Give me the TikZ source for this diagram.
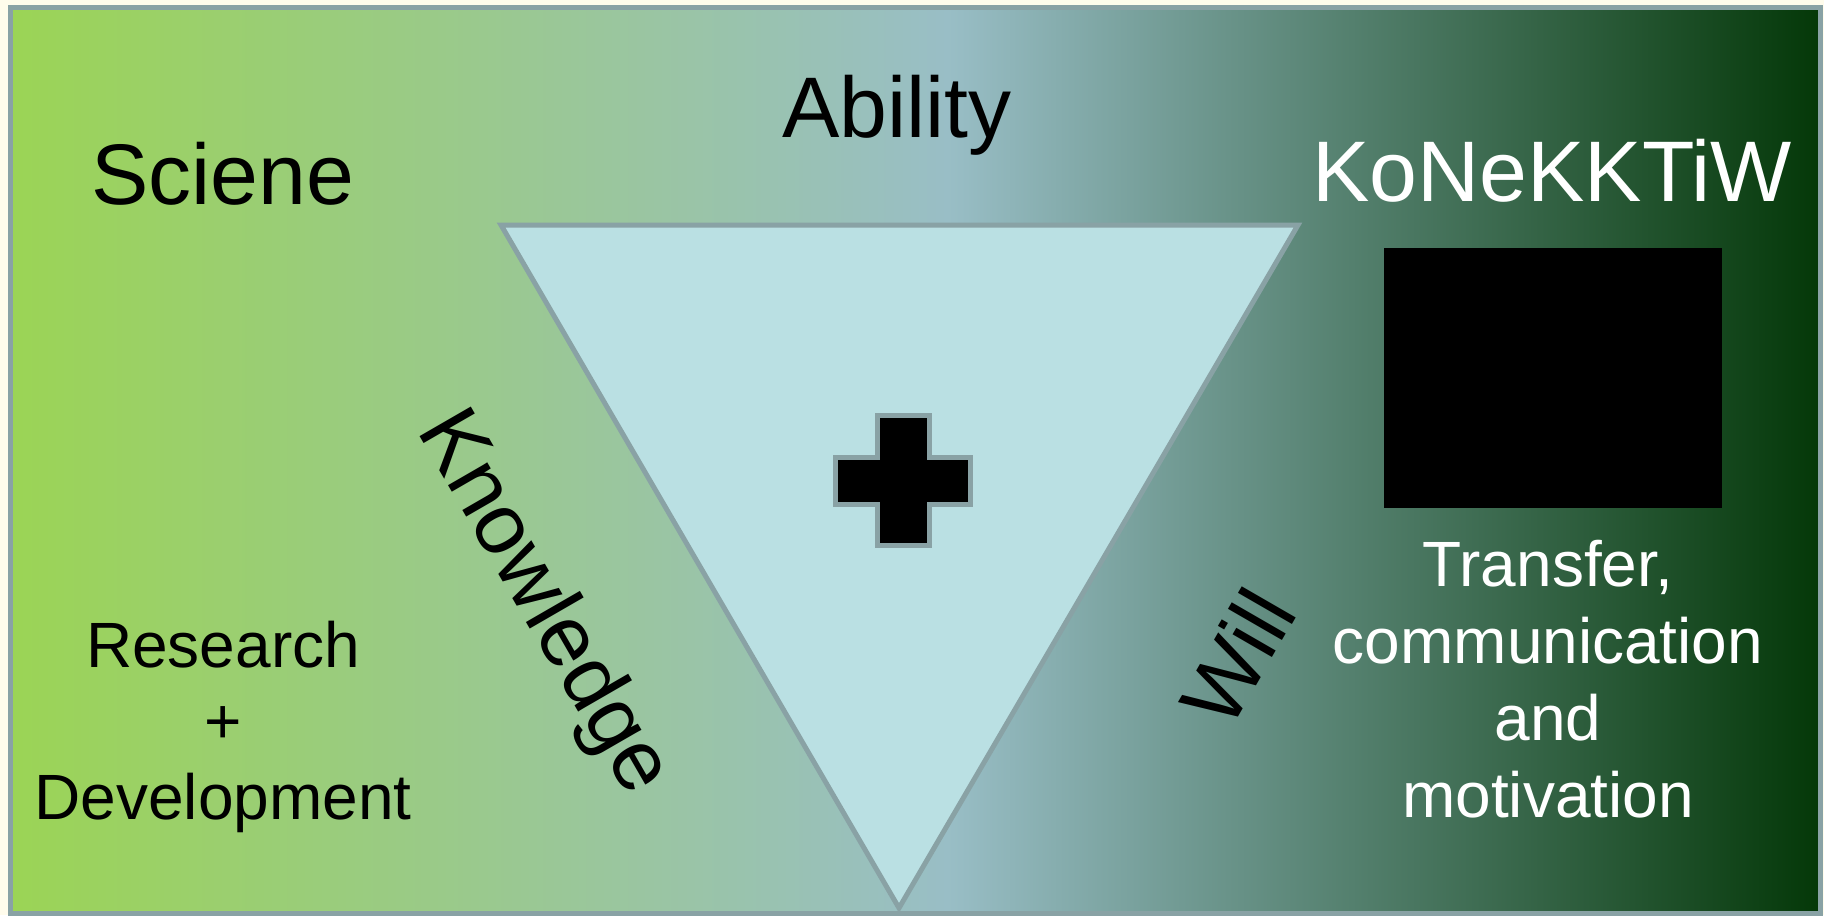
\documentclass[tikz,border=0pt]{standalone}
\usepackage{fontspec}
\setmainfont{Liberation Sans}
\definecolor{cream}{RGB}{255,252,236}
\definecolor{edgegray}{RGB}{137,162,165}
\definecolor{trifill}{RGB}{186,224,227}
\definecolor{gL}{RGB}{155,212,85}
\definecolor{gM}{RGB}{153,190,198}
\definecolor{gR}{RGB}{4,56,8}
\pgfdeclarehorizontalshading{bgshade}{100bp}{color(0bp)=(gL); color(25bp)=(gL); color(50.9bp)=(gM); color(75bp)=(gR); color(100bp)=(gR)}
\tikzset{
  bigtext/.style={font=\fontsize{43pt}{52pt}\selectfont, inner sep=0pt},
  smalltext/.style={font=\fontsize{32pt}{38pt}\selectfont, inner sep=0pt, anchor=base},
  edge/.style={draw=edgegray, line width=2.5pt}
}
\begin{document}
\begin{tikzpicture}[x=0.5pt,y=-0.5pt]
\useasboundingbox (0,0) rectangle (1824,915);
\fill[cream] (0,0) rectangle (1824,915);
\shade[shading=bgshade] (10,8) rectangle (1820,913.5);
\draw[edge] (10,8) rectangle (1820,913.5);
% triangle
\filldraw[fill=trifill, edge] (501,225) -- (1298,225) -- (899,908) -- cycle;
% plus sign
\filldraw[fill=black, edge] (877.5,415.5) -- (929.5,415.5) -- (929.5,457.5) -- (970.5,457.5) -- (970.5,504.5) -- (929.5,504.5) -- (929.5,545.5) -- (877.5,545.5) -- (877.5,504.5) -- (835.5,504.5) -- (835.5,457.5) -- (877.5,457.5) -- cycle;
% black box
\fill[black] (1384,248) rectangle (1722,508);
% titles
\node[bigtext, anchor=base] (sciene) at (223,204) {Sciene};
\node[bigtext, anchor=base] (ability) at (897,137) {Ability};
\node[bigtext, anchor=base, text=white] (konekktiw) at (1552,201) {KoNeKKTiW};
\node[bigtext, rotate=-60] (knowledge) at (542,604) {Knowledge};
\node[bigtext, rotate=60] (will) at (1237,657) {Will};
% left text
\node[smalltext] (research) at (223,667) {Research};
\node[smalltext] (plus) at (223,743) {+};
\node[smalltext] (development) at (223,819) {Development};
% right text
\node[smalltext, text=white] (transfer) at (1548,586) {Transfer,};
\node[smalltext, text=white] (communication) at (1548,663) {communication};
\node[smalltext, text=white] (and) at (1548,740) {and};
\node[smalltext, text=white] (motivation) at (1548,817) {motivation};
\end{tikzpicture}
\end{document}
